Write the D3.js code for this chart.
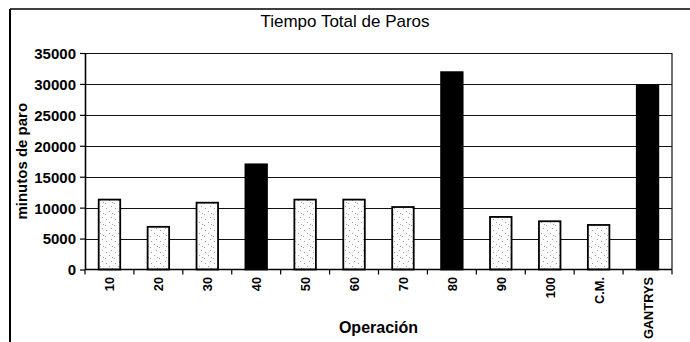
<!DOCTYPE html>
<html>
<head>
<meta charset="utf-8">
<script src="https://cdn.jsdelivr.net/npm/d3@7/dist/d3.min.js"></script>
<style>
  html, body { margin: 0; padding: 0; background: #fff; }
  svg { display: block; font-family: "Liberation Sans", Arial, sans-serif; }
</style>
</head>
<body>
<svg id="chart" width="690" height="342"></svg>
<script>
// Downtime per operation (minutes)
const categories = ["10", "20", "30", "40", "50", "60", "70", "80", "90", "100", "C.M.", "GANTRYS"];
const minutes = [11300, 6900, 10800, 17000, 11300, 11300, 10100, 31900, 8500, 7800, 7200, 29800];
const highlighted = ["40", "80", "GANTRYS"];
const yTicks = [0, 5000, 10000, 15000, 20000, 25000, 30000, 35000];
const chartTitle = "Tiempo Total de Paros";
const xTitle = "Operación";
const yTitle = "minutos de paro";

const svg = d3.select("#chart");
const plot = { left: 85, right: 672, top: 53, bottom: 269.5 };
const FONT = "'Liberation Sans', Arial, sans-serif";

// Stippled fill for the ordinary bars
const defs = svg.append("defs");
const pat = defs.append("pattern")
  .attr("id", "stipple")
  .attr("patternUnits", "userSpaceOnUse")
  .attr("width", 9).attr("height", 11);
pat.append("rect").attr("width", 9).attr("height", 11).attr("fill", "#fcfcfc");
[[1, 2], [6, 5], [3, 8], [7, 10], [4, 4]].forEach(([cx, cy]) =>
  pat.append("rect").attr("x", cx).attr("y", cy).attr("width", 1).attr("height", 1).attr("fill", "#a0a0a0"));

// Outer frame (left and top edges)
svg.append("line").attr("x1", 10).attr("x2", 10).attr("y1", 9).attr("y2", 342)
  .attr("stroke", "#000").attr("stroke-width", 2);
svg.append("line").attr("x1", 10).attr("x2", 690).attr("y1", 9).attr("y2", 9)
  .attr("stroke", "#000").attr("stroke-width", 1.5);

const x = d3.scaleBand().domain(categories).range([plot.left, plot.right]).paddingInner(0.56).paddingOuter(0.28);
const y = d3.scaleLinear().domain([0, 35000]).range([plot.bottom, plot.top]);

// Horizontal gridlines
svg.append("g")
  .selectAll("line").data(yTicks.filter(t => t > 0)).join("line")
  .attr("x1", plot.left).attr("x2", plot.right)
  .attr("y1", d => Math.round(y(d)) + 0.5).attr("y2", d => Math.round(y(d)) + 0.5)
  .attr("stroke", "#111").attr("stroke-width", 1);

// Right edge of plot area
svg.append("line").attr("x1", plot.right).attr("x2", plot.right)
  .attr("y1", plot.top).attr("y2", plot.bottom)
  .attr("stroke", "#111").attr("stroke-width", 1.2);

// Bars
svg.append("g")
  .selectAll("rect").data(categories.map((c, i) => ({ c, v: minutes[i] }))).join("rect")
  .attr("x", d => x(d.c))
  .attr("y", d => y(d.v))
  .attr("width", x.bandwidth())
  .attr("height", d => y(0) - y(d.v))
  .attr("fill", d => highlighted.includes(d.c) ? "#000" : "url(#stipple)")
  .attr("stroke", "#000")
  .attr("stroke-width", 1.8);

// Y axis
const yAxis = svg.append("g")
  .attr("transform", `translate(${plot.left},0)`)
  .call(d3.axisLeft(y).tickValues(yTicks).tickFormat(d3.format("d")).tickSize(5).tickSizeOuter(0));
yAxis.select(".domain").attr("stroke", "#000").attr("stroke-width", 1.6);
yAxis.selectAll(".tick line").attr("stroke", "#000").attr("stroke-width", 1.2);
yAxis.selectAll(".tick text")
  .attr("x", -9).attr("dy", "0.36em").attr("fill", "#000")
  .style("font-size", "15px").style("font-weight", "bold")
  .style("font-family", FONT);

// X axis: ticks at band boundaries, labels rotated
const xAxisG = svg.append("g").attr("transform", `translate(0,${plot.bottom})`);
xAxisG.append("line").attr("x1", plot.left).attr("x2", plot.right)
  .attr("stroke", "#000").attr("stroke-width", 1.6);
const boundaries = d3.range(categories.length + 1).map(i => plot.left + i * (plot.right - plot.left) / categories.length);
xAxisG.selectAll("line.tk").data(boundaries).join("line").attr("class", "tk")
  .attr("x1", d => d).attr("x2", d => d).attr("y1", 0).attr("y2", 5)
  .attr("stroke", "#000").attr("stroke-width", 1.2);
xAxisG.selectAll("text").data(categories).join("text")
  .attr("transform", d => `translate(${x(d) + x.bandwidth() / 2 + 5},7.5) rotate(-90)`)
  .attr("text-anchor", "end")
  .attr("fill", "#000")
  .style("font-size", "12.8px").style("font-weight", "bold")
  .text(d => d);

// Titles
svg.append("text").attr("x", 345).attr("y", 27).attr("text-anchor", "middle")
  .style("font-size", "17px").attr("fill", "#000").text(chartTitle);
svg.append("text").attr("x", (plot.left + plot.right) / 2).attr("y", 333).attr("text-anchor", "middle")
  .style("font-size", "16px").style("font-weight", "bold").attr("fill", "#000").text(xTitle);
svg.append("text")
  .attr("transform", `translate(27,${(plot.top + plot.bottom) / 2}) rotate(-90)`)
  .attr("text-anchor", "middle")
  .style("font-size", "15px").style("font-weight", "bold").attr("fill", "#000").text(yTitle);
</script>
</body>
</html>
